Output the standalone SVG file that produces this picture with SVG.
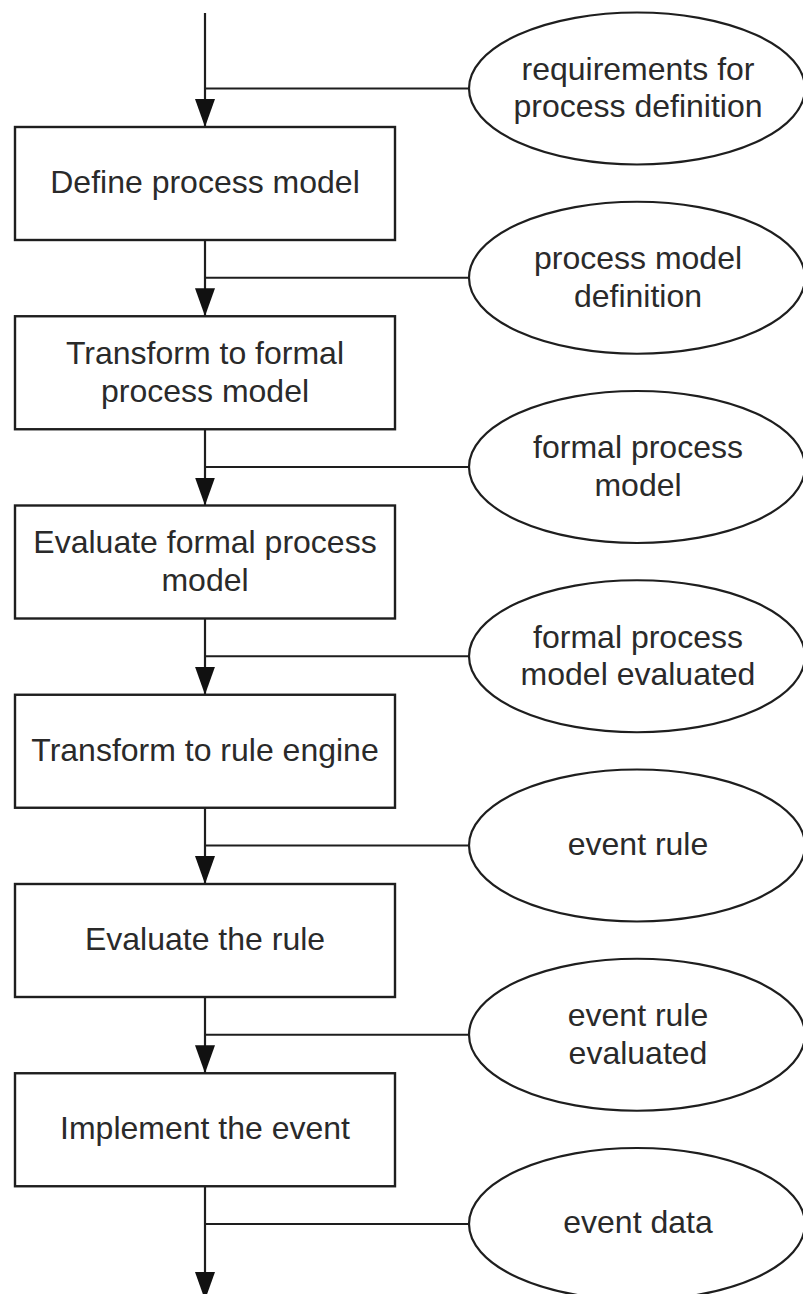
<svg xmlns="http://www.w3.org/2000/svg" width="803" height="1294" viewBox="0 0 803 1294">
  <style>
    .box { fill: #ffffff; stroke: #1e1e1e; stroke-width: 2.4; }
    .doc { fill: #ffffff; stroke: #1e1e1e; stroke-width: 2.2; }
    .link { fill: none; stroke: #1e1e1e; stroke-width: 2.2; }
    .flow { fill: none; stroke: #1e1e1e; stroke-width: 2.2; marker-end: url(#arrow); }
    text { font-family: "Liberation Sans", Arial, sans-serif; font-size: 32px; fill: #2a2a2a; text-anchor: middle; }
  </style>
  <defs>
    <marker id="arrow" viewBox="0 0 28 20" refX="28" refY="10" markerWidth="28" markerHeight="20" markerUnits="userSpaceOnUse" orient="auto">
      <path d="M0,0 L28,10 L0,20 Z" fill="#111111"/>
    </marker>
  </defs>

  <rect width="803" height="1294" fill="#ffffff"/>

  <!-- main flow and side inputs -->
  <g id="connectors">
    <line class="flow" x1="205" y1="13" x2="205" y2="127"/>
    <line class="flow" x1="205" y1="240" x2="205" y2="316.25"/>
    <line class="flow" x1="205" y1="429.25" x2="205" y2="505.5"/>
    <line class="flow" x1="205" y1="618.5" x2="205" y2="694.75"/>
    <line class="flow" x1="205" y1="807.75" x2="205" y2="884"/>
    <line class="flow" x1="205" y1="997" x2="205" y2="1073.25"/>
    <line class="flow" x1="205" y1="1186.25" x2="205" y2="1300"/>

    <line class="link" x1="205" y1="88.5" x2="469" y2="88.5"/>
    <line class="link" x1="205" y1="277.75" x2="469" y2="277.75"/>
    <line class="link" x1="205" y1="467" x2="469" y2="467"/>
    <line class="link" x1="205" y1="656.25" x2="469" y2="656.25"/>
    <line class="link" x1="205" y1="845.5" x2="469" y2="845.5"/>
    <line class="link" x1="205" y1="1034.75" x2="469" y2="1034.75"/>
    <line class="link" x1="205" y1="1224" x2="469" y2="1224"/>
  </g>

  <!-- process steps -->
  <g id="step-define">
    <rect class="box" x="15" y="127" width="380" height="113"/>
    <text x="205" y="193">Define process model</text>
  </g>
  <g id="step-transform-formal">
    <rect class="box" x="15" y="316.25" width="380" height="113"/>
    <text x="205" y="363.5">Transform to formal</text>
    <text x="205" y="401.5">process model</text>
  </g>
  <g id="step-evaluate-formal">
    <rect class="box" x="15" y="505.5" width="380" height="113"/>
    <text x="205" y="552.5">Evaluate formal process</text>
    <text x="205" y="590.5">model</text>
  </g>
  <g id="step-transform-rule">
    <rect class="box" x="15" y="694.75" width="380" height="113"/>
    <text x="205" y="760.5">Transform to rule engine</text>
  </g>
  <g id="step-evaluate-rule">
    <rect class="box" x="15" y="884" width="380" height="113"/>
    <text x="205" y="950">Evaluate the rule</text>
  </g>
  <g id="step-implement">
    <rect class="box" x="15" y="1073.25" width="380" height="113"/>
    <text x="205" y="1139">Implement the event</text>
  </g>

  <!-- data items -->
  <g id="data-requirements">
    <ellipse class="doc" cx="637" cy="88.5" rx="168" ry="76"/>
    <text x="638" y="80">requirements for</text>
    <text x="638" y="117">process definition</text>
  </g>
  <g id="data-process-model">
    <ellipse class="doc" cx="637" cy="277.75" rx="168" ry="76"/>
    <text x="638" y="269">process model</text>
    <text x="638" y="306.5">definition</text>
  </g>
  <g id="data-formal-model">
    <ellipse class="doc" cx="637" cy="467" rx="168" ry="76"/>
    <text x="638" y="458">formal process</text>
    <text x="638" y="495.5">model</text>
  </g>
  <g id="data-formal-evaluated">
    <ellipse class="doc" cx="637" cy="656.25" rx="168" ry="76"/>
    <text x="638" y="647.5">formal process</text>
    <text x="638" y="685">model evaluated</text>
  </g>
  <g id="data-event-rule">
    <ellipse class="doc" cx="637" cy="845.5" rx="168" ry="76"/>
    <text x="638" y="854.5">event rule</text>
  </g>
  <g id="data-rule-evaluated">
    <ellipse class="doc" cx="637" cy="1034.75" rx="168" ry="76"/>
    <text x="638" y="1026">event rule</text>
    <text x="638" y="1063.5">evaluated</text>
  </g>
  <g id="data-event">
    <ellipse class="doc" cx="637" cy="1224" rx="168" ry="76"/>
    <text x="638" y="1233">event data</text>
  </g>
</svg>
